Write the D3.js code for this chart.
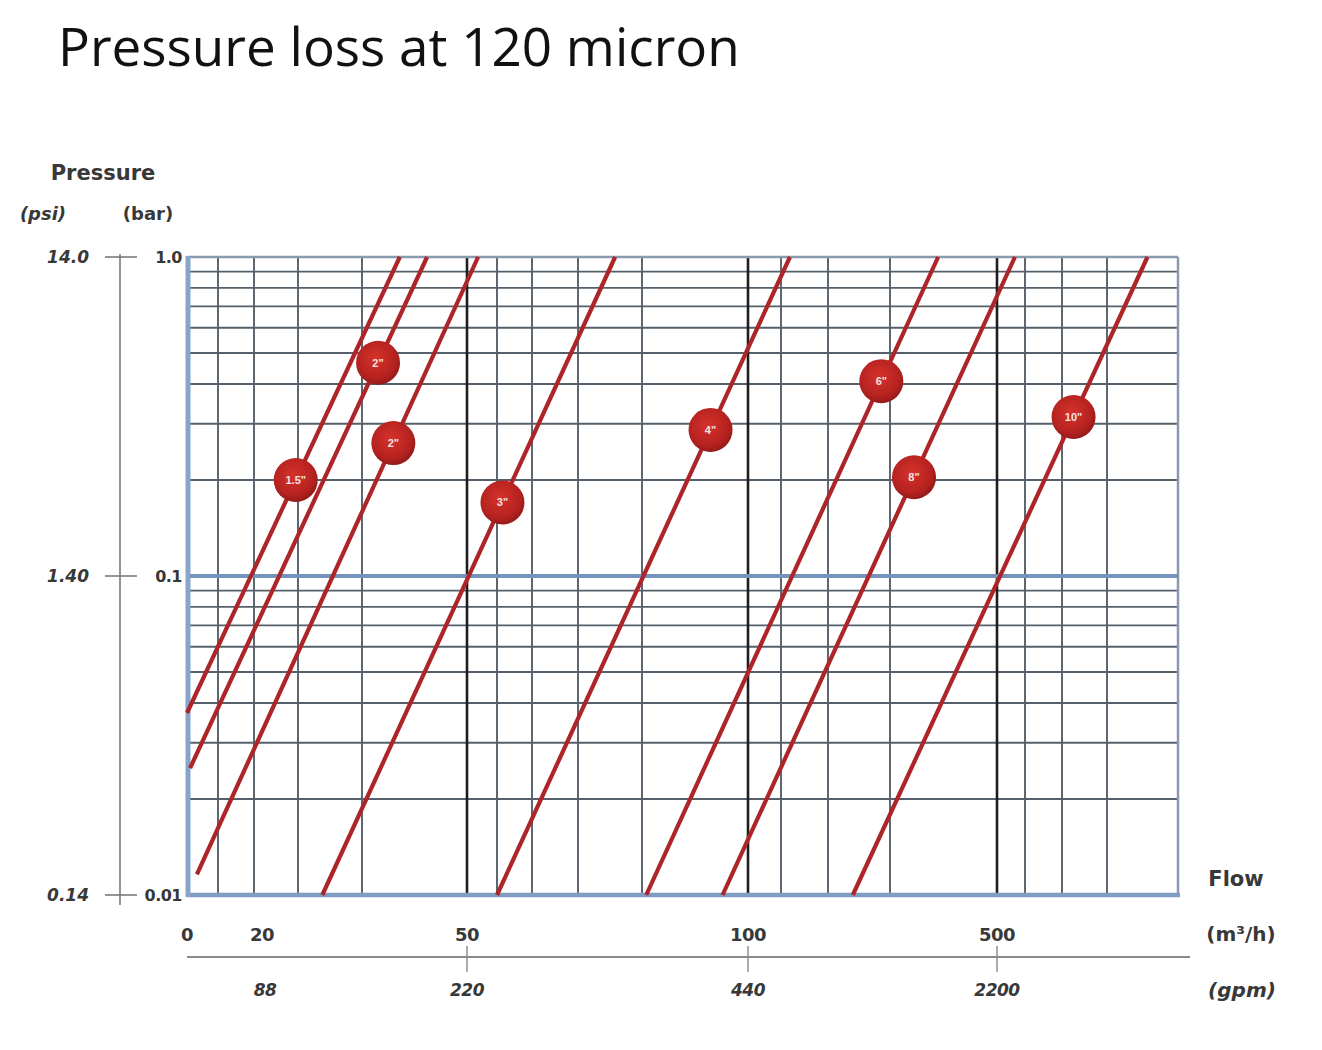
<!DOCTYPE html>
<html>
<head>
<meta charset="utf-8">
<script src="https://cdn.jsdelivr.net/npm/d3@7"></script>
<style>
  body { margin: 0; background: #fff; }
  text { font-family: "DejaVu Sans", Verdana, sans-serif; }
</style>
</head>
<body>
<svg id="chart"></svg>
<script>
// Flow gridlines (m3/h) -- the chart's flow axis is irregular, so each gridline gets its own position
const flowGrid = [0, 10, 20, 30, 40, 50, 60, 70, 80, 90, 100, 200, 300, 400, 500, 600, 700, 800, 900];
const flowGridPos = [0, 31, 67, 111, 175, 280, 310, 345, 391, 455, 561, 594, 641, 703, 810, 838, 875, 920, 991];
const flowMajor = [50, 100, 500];

// Pressure gridlines (bar), log
const pressGrid = [0.01, 0.02, 0.03, 0.04, 0.05, 0.06, 0.07, 0.08, 0.09,
                   0.1, 0.2, 0.3, 0.4, 0.5, 0.6, 0.7, 0.8, 0.9, 1.0];

// Tick labels
const flowTicks = [0, 20, 50, 100, 500];
const gpmTickFlows = [20, 50, 100, 500];
const gpmLabels = ["88", "220", "440", "2200"];
const gpmTickMarks = [50, 100, 500];
const barTicks = [1.0, 0.1, 0.01];
const barLabels = ["1.0", "0.1", "0.01"];
const psiLabels = ["14.0", "1.40", "0.14"];

// Filter size curves: straight lines from (flowLow, pressLow) to (flowHigh, pressHigh)
const sizes = ['1.5"', '2"', '2"', '3"', '4"', '6"', '8"', '10"'];
const flowLow = [0, 1, 3.2, 33.8, 60, 90.4, 97.6, 340];
const pressLow = [0.0372, 0.025, 0.0116, 0.01, 0.01, 0.01, 0.01, 0.01];
const flowHigh = [43.6, 46.2, 53.7, 85.8, 219, 445, 564, 857];
const pressHigh = [1, 1, 1, 1, 1, 1, 1, 1];
const labelPress = [0.2, 0.466, 0.261, 0.17, 0.287, 0.408, 0.204, 0.315];

const margin = { top: 257, left: 187 };
const width = 991;
const height = 638;
const ink = "#383838";

const svg = d3.select("#chart")
  .attr("width", 1322)
  .attr("height", 1050);

// Title
svg.append("text")
  .attr("x", 58)
  .attr("y", 66)
  .style("font-family", "'Open Sans', sans-serif")
  .style("font-size", "53px")
  .attr("fill", "#111")
  .text("Pressure loss at 120 micron");

const g = svg.append("g")
  .attr("transform", "translate(" + margin.left + "," + margin.top + ")");

const x = d3.scaleLinear()
  .domain(flowGrid)
  .range(flowGridPos);

const y = d3.scaleLog()
  .domain([0.01, 1])
  .range([height, 0]);

// Horizontal grid
g.selectAll(".hgrid")
  .data(pressGrid)
  .enter()
  .append("line")
  .attr("x1", 0)
  .attr("x2", width)
  .attr("y1", d => y(d))
  .attr("y2", d => y(d))
  .attr("stroke", "#56606b")
  .attr("stroke-width", 1.9);

// Vertical grid
g.selectAll(".vgrid")
  .data(flowGrid.filter(d => d > 0 && d < 900))
  .enter()
  .append("line")
  .attr("x1", d => x(d))
  .attr("x2", d => x(d))
  .attr("y1", 0)
  .attr("y2", height)
  .attr("stroke", d => flowMajor.includes(d) ? "#1e1e1e" : "#56606b")
  .attr("stroke-width", d => flowMajor.includes(d) ? 2.6 : 1.9);

// Borders and 0.1 bar line
g.append("line").attr("x1", 0).attr("x2", width).attr("y1", 0).attr("y2", 0)
  .attr("stroke", "#8a9aae").attr("stroke-width", 2.5);
g.append("line").attr("x1", width).attr("x2", width).attr("y1", 0).attr("y2", height)
  .attr("stroke", "#8a9aae").attr("stroke-width", 2.5);
g.append("line").attr("x1", 0).attr("x2", width).attr("y1", y(0.1)).attr("y2", y(0.1))
  .attr("stroke", "#7393bd").attr("stroke-width", 4);
g.append("line").attr("x1", 0).attr("x2", width + 2).attr("y1", height).attr("y2", height)
  .attr("stroke", "#7f9cc2").attr("stroke-width", 4.5);
g.append("line").attr("x1", 1).attr("x2", 1).attr("y1", -1).attr("y2", height + 2)
  .attr("stroke", "#88a5c9").attr("stroke-width", 5);

// Gradient for the size badges
const grad = svg.append("defs").append("radialGradient")
  .attr("id", "badge")
  .attr("cx", "45%").attr("cy", "40%").attr("r", "60%");
grad.append("stop").attr("offset", "0%").attr("stop-color", "#d6322a");
grad.append("stop").attr("offset", "75%").attr("stop-color", "#b52220");
grad.append("stop").attr("offset", "100%").attr("stop-color", "#941a18");

// Size curves
const curves = sizes.map((s, i) => ({
  size: s,
  x1: x(flowLow[i]), y1: y(pressLow[i]),
  x2: x(flowHigh[i]), y2: y(pressHigh[i]),
  ly: y(labelPress[i])
}));

g.selectAll(".curve")
  .data(curves)
  .enter()
  .append("line")
  .attr("class", "curve")
  .attr("x1", d => d.x1)
  .attr("y1", d => d.y1)
  .attr("x2", d => d.x2)
  .attr("y2", d => d.y2)
  .attr("stroke", "#ad2528")
  .attr("stroke-width", 4.2);

const badges = g.selectAll(".badge")
  .data(curves)
  .enter()
  .append("g")
  .attr("transform", d => {
    const t = (d.ly - d.y1) / (d.y2 - d.y1);
    return "translate(" + (d.x1 + t * (d.x2 - d.x1)) + "," + d.ly + ")";
  });

badges.append("circle")
  .attr("r", 22)
  .attr("fill", "url(#badge)");

badges.append("text")
  .attr("text-anchor", "middle")
  .attr("dy", "0.35em")
  .attr("fill", "#f3e3e3")
  .style("font-family", "'Liberation Sans', Arial, sans-serif")
  .style("font-size", "11px")
  .style("font-weight", "bold")
  .text(d => d.size);

// Left pressure axis
svg.append("line")
  .attr("x1", 120).attr("x2", 120)
  .attr("y1", margin.top - 3).attr("y2", margin.top + height + 10)
  .attr("stroke", "#7a7a7a").attr("stroke-width", 1.6);

svg.selectAll(".ptick")
  .data(barTicks)
  .enter()
  .append("line")
  .attr("x1", 105).attr("x2", 137)
  .attr("y1", d => margin.top + y(d))
  .attr("y2", d => margin.top + y(d))
  .attr("stroke", "#7a7a7a").attr("stroke-width", 1.6);

svg.selectAll(".barlab")
  .data(barTicks)
  .enter()
  .append("text")
  .attr("x", 182)
  .attr("y", d => margin.top + y(d))
  .attr("dy", "0.36em")
  .attr("text-anchor", "end")
  .attr("fill", ink)
  .style("font-size", "16px")
  .style("font-weight", "bold")
  .style("letter-spacing", "-0.5px")
  .text((d, i) => barLabels[i]);

svg.selectAll(".psilab")
  .data(barTicks)
  .enter()
  .append("text")
  .attr("x", 89)
  .attr("y", d => margin.top + y(d))
  .attr("dy", "0.36em")
  .attr("text-anchor", "end")
  .attr("fill", ink)
  .style("font-size", "17px")
  .style("font-weight", "bold")
  .style("font-style", "italic")
  .text((d, i) => psiLabels[i]);

svg.append("text")
  .attr("x", 103).attr("y", 180)
  .attr("text-anchor", "middle")
  .attr("fill", ink)
  .style("font-size", "21px")
  .style("font-weight", "bold")
  .text("Pressure");
svg.append("text")
  .attr("x", 43).attr("y", 220)
  .attr("text-anchor", "middle")
  .attr("fill", ink)
  .style("font-size", "18px")
  .style("font-weight", "bold")
  .style("font-style", "italic")
  .text("(psi)");
svg.append("text")
  .attr("x", 148).attr("y", 220)
  .attr("text-anchor", "middle")
  .attr("fill", ink)
  .style("font-size", "18px")
  .style("font-weight", "bold")
  .text("(bar)");

// Flow axis (m3/h)
svg.selectAll(".flowlab")
  .data(flowTicks)
  .enter()
  .append("text")
  .attr("x", d => margin.left + x(d) + (d === 20 ? 8 : 0))
  .attr("y", 941)
  .attr("text-anchor", "middle")
  .attr("fill", ink)
  .style("font-size", "18px")
  .style("font-weight", "bold")
  .style("letter-spacing", "-0.5px")
  .text(d => d);

// gpm axis
svg.append("line")
  .attr("x1", margin.left).attr("x2", 1190)
  .attr("y1", 957).attr("y2", 957)
  .attr("stroke", "#8a8a8a").attr("stroke-width", 2);

svg.selectAll(".gpmtick")
  .data(gpmTickMarks)
  .enter()
  .append("line")
  .attr("x1", d => margin.left + x(d))
  .attr("x2", d => margin.left + x(d))
  .attr("y1", 946).attr("y2", 972)
  .attr("stroke", "#8a8a8a").attr("stroke-width", 1.4);

svg.selectAll(".gpmlab")
  .data(gpmTickFlows)
  .enter()
  .append("text")
  .attr("x", d => margin.left + x(d) + (d === 20 ? 11 : 0))
  .attr("y", 996)
  .attr("text-anchor", "middle")
  .attr("fill", ink)
  .style("font-size", "17px")
  .style("font-weight", "bold")
  .style("font-style", "italic")
  .style("letter-spacing", "-0.5px")
  .text((d, i) => gpmLabels[i]);

svg.append("text")
  .attr("x", 1236).attr("y", 886)
  .attr("text-anchor", "middle")
  .attr("fill", ink)
  .style("font-size", "21px")
  .style("font-weight", "bold")
  .text("Flow");
svg.append("text")
  .attr("x", 1241).attr("y", 941)
  .attr("text-anchor", "middle")
  .attr("fill", ink)
  .style("font-size", "20px")
  .style("font-weight", "bold")
  .text("(m³/h)");
svg.append("text")
  .attr("x", 1242).attr("y", 997)
  .attr("text-anchor", "middle")
  .attr("fill", ink)
  .style("font-size", "20px")
  .style("font-weight", "bold")
  .style("font-style", "italic")
  .text("(gpm)");
</script>
</body>
</html>
